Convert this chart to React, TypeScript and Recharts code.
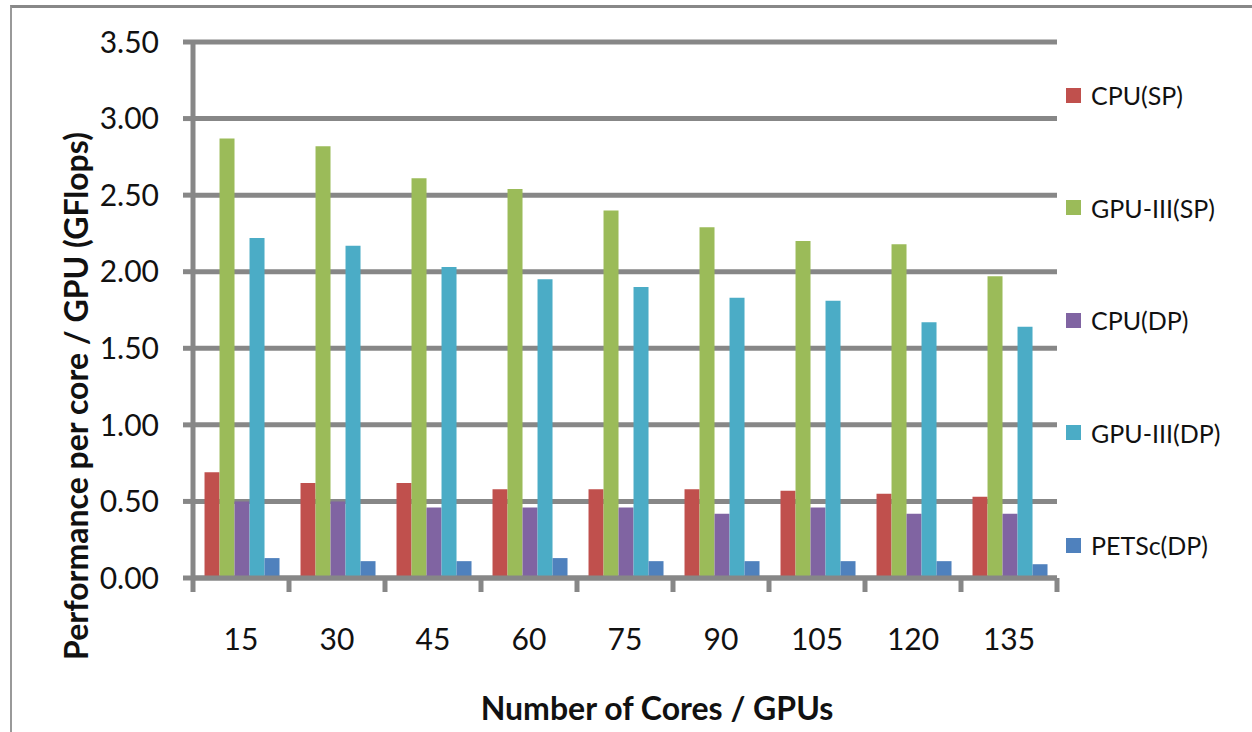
import React from "react";
import { BarChart, Bar, XAxis, YAxis, CartesianGrid, Legend, Label } from "recharts";

const cores = ["15", "30", "45", "60", "75", "90", "105", "120", "135"];
const cpuSP = [0.69, 0.62, 0.62, 0.58, 0.58, 0.58, 0.57, 0.55, 0.53];
const gpuSP = [2.87, 2.82, 2.61, 2.54, 2.4, 2.29, 2.2, 2.18, 1.97];
const cpuDP = [0.5, 0.5, 0.46, 0.46, 0.46, 0.42, 0.46, 0.42, 0.42];
const gpuDP = [2.22, 2.17, 2.03, 1.95, 1.9, 1.83, 1.81, 1.67, 1.64];
const petscDP = [0.13, 0.11, 0.11, 0.13, 0.11, 0.11, 0.11, 0.11, 0.09];
const yTicks = [0, 0.5, 1, 1.5, 2, 2.5, 3, 3.5];

const series = [
  { key: "cpuSP", name: "CPU(SP)", color: "#C0504D" },
  { key: "gpuSP", name: "GPU-III(SP)", color: "#9BBB59" },
  { key: "cpuDP", name: "CPU(DP)", color: "#8064A2" },
  { key: "gpuDP", name: "GPU-III(DP)", color: "#4BACC6" },
  { key: "petscDP", name: "PETSc(DP)", color: "#4F81BD" },
];

const data = cores.map((c, i) => ({
  cores: c,
  cpuSP: cpuSP[i],
  gpuSP: gpuSP[i],
  cpuDP: cpuDP[i],
  gpuDP: gpuDP[i],
  petscDP: petscDP[i],
}));

const GRID = "#878787";
const FONT = "Lato, 'Open Sans', sans-serif";

function XTick(props: any) {
  const { x, y, payload, index } = props;
  const off = payload?.offset ?? 48;
  const last = index === cores.length - 1;
  return (
    <g>
      <line x1={x - off} x2={x - off} y1={y} y2={y + 14} stroke={GRID} strokeWidth={5} />
      {last && <line x1={x + off} x2={x + off} y1={y} y2={y + 14} stroke={GRID} strokeWidth={5} />}
      <text x={x} y={y + 60} textAnchor="middle" dominantBaseline="central" fontSize={30} fill="#111" fontFamily={FONT}>
        {payload.value}
      </text>
    </g>
  );
}

function LegendBox() {
  return (
    <div style={{ fontFamily: FONT, fontSize: 25, color: "#111" }}>
      {series.map((s) => (
        <div key={s.key} style={{ height: 112.5, display: "flex", alignItems: "center" }}>
          <span style={{ width: 15, height: 15, background: s.color, marginRight: 10, display: "inline-block" }} />
          <span>{s.name}</span>
        </div>
      ))}
    </div>
  );
}

export default function App() {
  return (
    <div style={{ position: "absolute", left: 0, top: 0, width: 1252, height: 732, background: "#fff" }}>
      <div
        style={{
          position: "absolute",
          left: 10,
          top: 5,
          width: 1242,
          height: 727,
          borderLeft: "2px solid #999",
          borderTop: "3px solid #888",
        }}
      />
      <BarChart
        width={1252}
        height={732}
        data={data}
        margin={{ top: 42, right: 10, left: 0, bottom: 54 }}
        barCategoryGap="12%"
        barGap={0}
        style={{ position: "absolute", left: 0, top: 0 }}
      >
        <CartesianGrid vertical={false} stroke={GRID} strokeWidth={5} />
        <XAxis
          dataKey="cores"
          height={100}
          tickLine={false}
          tickSize={0}
          tickMargin={0}
          axisLine={{ stroke: GRID, strokeWidth: 5 }}
          tick={<XTick />}
          interval={0}
        >
          <Label
            content={(p: any) => {
              const vb = p.viewBox;
              return (
                <text
                  x={vb.x + vb.width / 2 + 32}
                  y={707}
                  textAnchor="middle"
                  dominantBaseline="central"
                  fontSize={32}
                  fontWeight={700}
                  fill="#111"
                  fontFamily={FONT}
                >
                  Number of Cores / GPUs
                </text>
              );
            }}
          />
        </XAxis>
        <YAxis
          width={193}
          domain={[0, 3.5]}
          ticks={yTicks}
          interval={0}
          tickFormatter={(v: number) => v.toFixed(2)}
          tick={{ fill: "#111", fontSize: 30, fontFamily: FONT }}
          tickSize={10}
          tickMargin={24}
          tickLine={{ stroke: GRID, strokeWidth: 5 }}
          axisLine={{ stroke: GRID, strokeWidth: 5 }}
        >
          <Label
            content={() => (
              <text
                x={75}
                y={396}
                transform="rotate(-90 75 396)"
                textAnchor="middle"
                dominantBaseline="central"
                fontSize={32}
                fontWeight={700}
                fill="#111"
                fontFamily={FONT}
              >
                Performance per core / GPU (GFlops)
              </text>
            )}
          />
        </YAxis>
        <Legend
          layout="vertical"
          align="right"
          verticalAlign="top"
          content={<LegendBox />}
          wrapperStyle={{ left: 1066, top: 39, width: 185 }}
        />
        {series.map((s) => (
          <Bar key={s.key} dataKey={s.key} name={s.name} fill={s.color} isAnimationActive={false} />
        ))}
      </BarChart>
    </div>
  );
}
